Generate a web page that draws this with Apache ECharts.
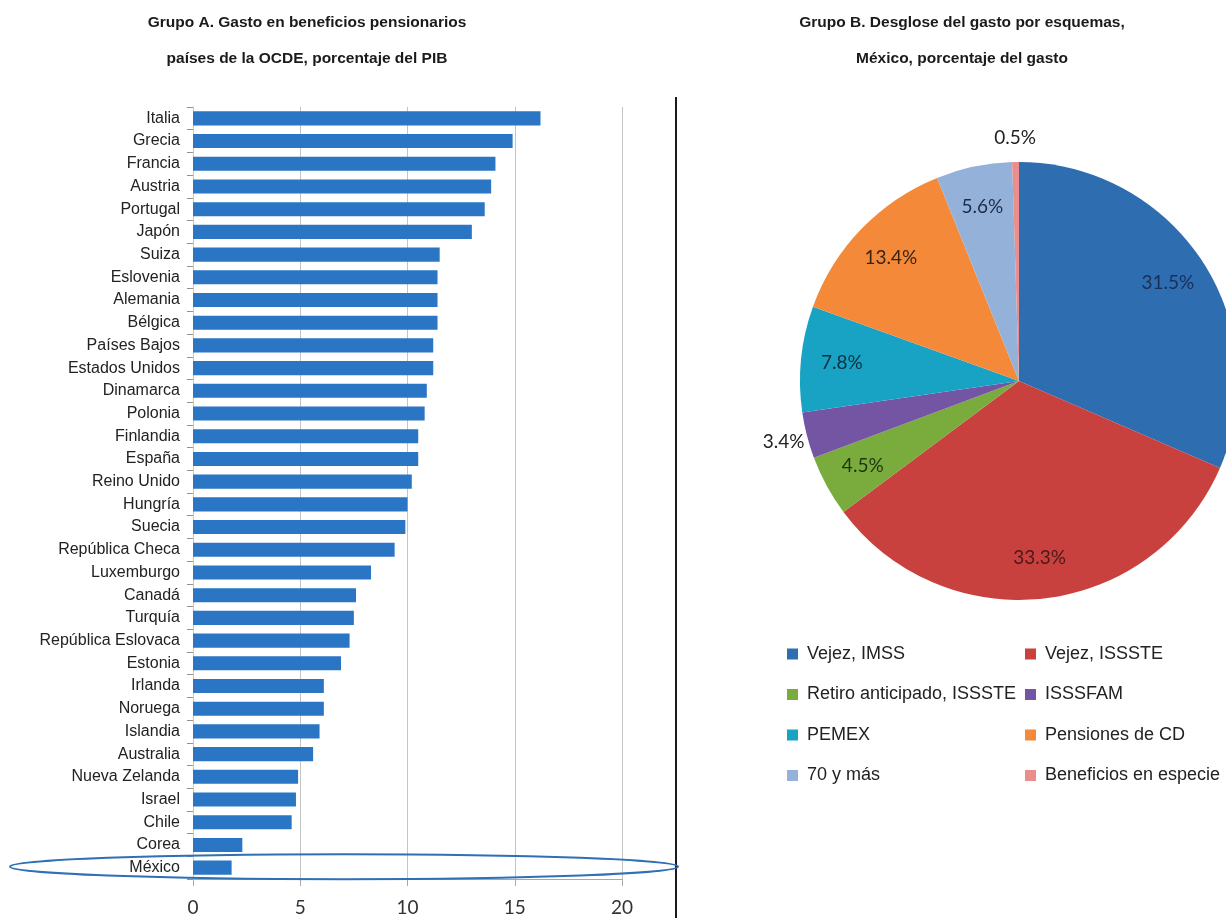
<!DOCTYPE html>
<html><head><meta charset="utf-8">
<script src="https://cdn.jsdelivr.net/npm/echarts@6/dist/echarts.min.js"></script>
<style>html,body{margin:0;padding:0;background:#fff}#c{width:1226px;height:918px}</style>
</head><body><div id="c"></div>
<script>
// ---- data ----
const countries = ['Italia','Grecia','Francia','Austria','Portugal','Japón','Suiza','Eslovenia','Alemania','Bélgica','Países Bajos','Estados Unidos','Dinamarca','Polonia','Finlandia','España','Reino Unido','Hungría','Suecia','República Checa','Luxemburgo','Canadá','Turquía','República Eslovaca','Estonia','Irlanda','Noruega','Islandia','Australia','Nueva Zelanda','Israel','Chile','Corea','México'];
const spending = [16.2,14.9,14.1,13.9,13.6,13.0,11.5,11.4,11.4,11.4,11.2,11.2,10.9,10.8,10.5,10.5,10.2,10.0,9.9,9.4,8.3,7.6,7.5,7.3,6.9,6.1,6.1,5.9,5.6,4.9,4.8,4.6,2.3,1.8];
const xTicks = [0,5,10,15,20];
const schemes = ['Vejez, IMSS','Vejez, ISSSTE','Retiro anticipado, ISSSTE','ISSSFAM','PEMEX','Pensiones de CD','70 y más','Beneficios en especie'];
const shares = [31.5,33.3,4.5,3.4,7.8,13.4,5.6,0.5];
const titleA = ['Grupo A. Gasto en beneficios pensionarios','países de la OCDE, porcentaje del PIB'];
const titleB = ['Grupo B. Desglose del gasto por esquemas,','México, porcentaje del gasto'];

// ---- styles ----
const barColor = '#2a76c4';
const sliceColors = ['#2e6db0','#c8413e','#79ab3d','#7455a4','#18a2c3','#f5893a','#94b2d9','#ea8d8d'];
const labelColors = ['#1a2f5a','#4a1a18','#1f3510','#222222','#0f3040','#3a2410','#1a2c4c','#222222'];
const C = [1019, 381], R = 219;

const chart = echarts.init(document.getElementById('c'), null, {renderer:'canvas'});
const pieData = schemes.map((n,i)=>({name:n, value:shares[i], itemStyle:{color:sliceColors[i]}}));
const ringData = (outside) => schemes.map((n,i)=>({
  name:n, value:shares[i],
  label:{show: outside ? shares[i] < 4 : shares[i] >= 4, color: labelColors[i]}
}));
const ringSeries = (radius, outside) => ({
  type:'pie', center:C, radius:radius, silent:true, clockwise:true, startAngle:90,
  itemStyle:{color:'transparent', borderWidth:0}, emphasis:{disabled:true},
  label:{position:'inside', fontFamily:'Lato', fontSize:19,
    formatter:p=>p.value.toFixed(1)+'%'},
  labelLine:{show:false}, data:ringData(outside), z:5
});
const legendCommon = {
  orient:'vertical', icon:'rect', itemWidth:11, itemHeight:11, itemGap:20.5, padding:0,
  selectedMode:false,
  textStyle:{fontFamily:'Liberation Sans', fontSize:18, color:'#222', lineHeight:20, padding:[0,0,0,4]}
};
const titleStyle = {fontFamily:'Liberation Sans', fontWeight:'bold', fontSize:15.5, lineHeight:36, color:'#1a1a1a'};

chart.setOption({
  animation:false,
  backgroundColor:'#fff',
  title:[
    {text:titleA.join('\n'), left:307, top:5, padding:0, textAlign:'center', textStyle:titleStyle},
    {text:titleB.join('\n'), left:962, top:5, padding:0, textAlign:'center', textStyle:titleStyle}
  ],
  grid:{left:193, right:604, top:107, bottom:39, containLabel:false},
  xAxis:{type:'value', min:xTicks[0], max:xTicks[xTicks.length-1], interval:xTicks[1]-xTicks[0],
    axisLine:{show:true, lineStyle:{color:'#a8a8a8'}},
    axisTick:{show:true, length:7, lineStyle:{color:'#a8a8a8'}},
    splitLine:{show:true, lineStyle:{color:'#c4c4c4', width:1}},
    axisLabel:{fontFamily:'Lato', fontSize:19, color:'#333', margin:19}},
  yAxis:{type:'category', data:countries, inverse:true,
    axisLine:{show:true, lineStyle:{color:'#c8c8c8'}},
    axisTick:{show:true, length:6, lineStyle:{color:'#a09080'}},
    axisLabel:{fontFamily:'Liberation Sans', fontSize:16, color:'#222', margin:13}},
  legend:[
    Object.assign({left:787, top:644, data:schemes.filter((_,i)=>i%2===0)}, legendCommon),
    Object.assign({left:1025, top:644, data:schemes.filter((_,i)=>i%2===1)}, legendCommon)
  ],
  series:[
    {type:'pie', center:C, radius:[0,R], clockwise:true, startAngle:90, silent:true,
     itemStyle:{borderWidth:0}, label:{show:false}, labelLine:{show:false}, data:pieData, z:2},
    {type:'bar', data:spending, barCategoryGap:'38%', itemStyle:{color:barColor}, silent:true},
    ringSeries([131,R], false),
    ringSeries([224,256], true)
  ]
});

const mexY = chart.convertToPixel({yAxisIndex:0}, 'México');
chart.setOption({
  graphic:[
    {type:'line', shape:{x1:676, y1:97, x2:676, y2:918}, style:{stroke:'#1a1a1a', lineWidth:2}, silent:true},
    {type:'ellipse', shape:{cx:344, cy:mexY-1, rx:334, ry:12.5}, style:{fill:null, stroke:'#2f6fb3', lineWidth:2}, silent:true, z:10}
  ]
});
</script></body></html>
